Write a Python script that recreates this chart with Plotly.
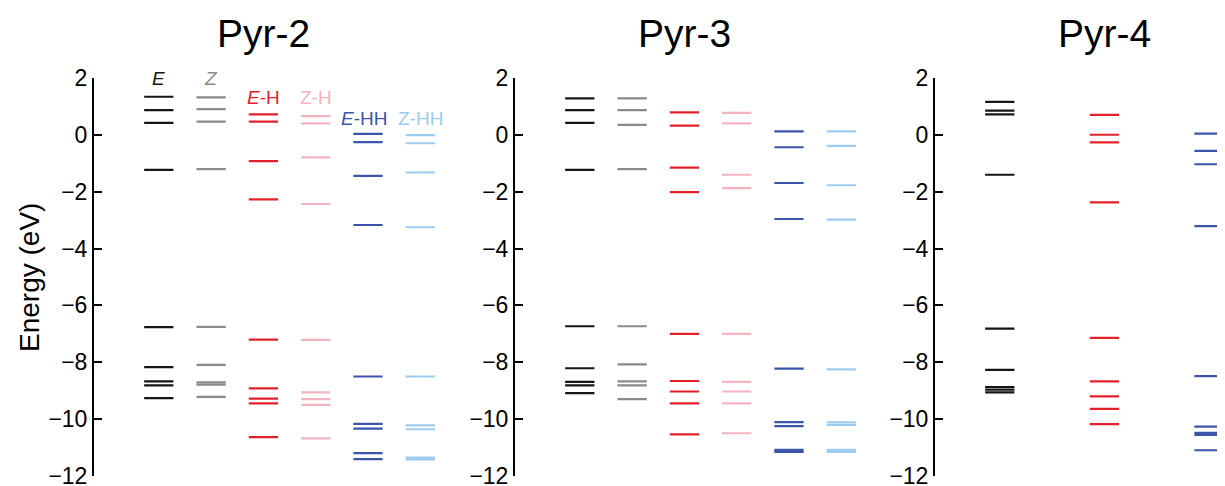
import plotly.graph_objects as go

# ---------------- data ----------------
panel_names = ["Pyr-2", "Pyr-3", "Pyr-4"]
column_labels = ["<i>E</i>", "<i>Z</i>", "<i>E</i>-H", "Z-H", "<i>E</i>-HH", "Z-HH"]
column_keys = ["E", "Z", "E-H", "Z-H", "E-HH", "Z-HH"]
column_colors = ["#151515", "#8a8a8a", "#e3202a", "#f3b4c1", "#3c55a9", "#9ecbf0"]

pyr2_E = [1.35, 0.88, 0.43, -1.23, -6.77, -8.18, -8.68, -8.82, -9.27]
pyr2_Z = [1.33, 0.91, 0.47, -1.20, -6.76, -8.10, -8.72, -8.80, -9.23]
pyr2_EH = [0.73, 0.47, -0.92, -2.27, -7.21, -8.93, -9.29, -9.46, -10.65]
pyr2_ZH = [0.67, 0.41, -0.79, -2.43, -7.22, -9.07, -9.31, -9.51, -10.69]
pyr2_EHH = [0.04, -0.25, -1.44, -3.17, -8.51, -10.18, -10.35, -11.21, -11.42]
pyr2_ZHH = [0.00, -0.29, -1.32, -3.25, -8.51, -10.23, -10.37, -11.37, -11.43]

pyr3_E = [1.29, 0.88, 0.43, -1.23, -6.74, -8.22, -8.70, -8.82, -9.10]
pyr3_Z = [1.29, 0.88, 0.36, -1.20, -6.74, -8.08, -8.68, -8.82, -9.31]
pyr3_EH = [0.80, 0.33, -1.15, -2.01, -7.01, -8.67, -9.04, -9.46, -10.55]
pyr3_ZH = [0.78, 0.41, -1.40, -1.87, -7.01, -8.70, -9.04, -9.46, -10.51]
pyr3_EHH = [0.13, -0.43, -1.69, -2.96, -8.23, -10.12, -10.26, -11.10, -11.17]
pyr3_ZHH = [0.13, -0.38, -1.77, -2.98, -8.26, -10.13, -10.22, -11.10, -11.17]

pyr4_E = [1.17, 0.86, 0.73, -1.40, -6.82, -8.28, -8.88, -8.97, -9.07]
pyr4_EH = [0.71, 0.01, -0.26, -2.37, -7.15, -8.68, -9.21, -9.65, -10.19]
pyr4_EHH = [0.05, -0.56, -1.03, -3.21, -8.50, -10.28, -10.50, -10.57, -11.11]

panels = [
    {"E": pyr2_E, "Z": pyr2_Z, "E-H": pyr2_EH, "Z-H": pyr2_ZH, "E-HH": pyr2_EHH, "Z-HH": pyr2_ZHH},
    {"E": pyr3_E, "Z": pyr3_Z, "E-H": pyr3_EH, "Z-H": pyr3_ZH, "E-HH": pyr3_EHH, "Z-HH": pyr3_ZHH},
    {"E": pyr4_E, "E-H": pyr4_EH, "E-HH": pyr4_EHH},
]

y_ticks = [2, 0, -2, -4, -6, -8, -10, -12]

# ---------------- layout geometry ----------------
# the page body has an 8px margin, so figure coords = page coords - 8
OFF = 8
W, H = 1225 - OFF, 486 - OFF
px_per_unit = 52.3
x_left = -0.239
half_len = 0.28
axis_left_px = [94 - OFF, 515 - OFF, 935 - OFF]
axis_right_px = [436 - OFF, 857 - OFF, 1225 - OFF]
y_top_px, y_bot_px = 78.3 - OFF, 475.5 - OFF

FONT = "Liberation Sans, Arial, Helvetica, sans-serif"

fig = go.Figure()

for p, data in enumerate(panels):
    xa = "x" if p == 0 else f"x{p+1}"
    ya = "y" if p == 0 else f"y{p+1}"
    for ci, key in enumerate(column_keys):
        if key not in data:
            continue
        pos = ci + 1
        xs, ys = [], []
        for v in data[key]:
            xs += [pos - half_len, pos + half_len, None]
            ys += [v, v, None]
        fig.add_trace(go.Scatter(
            x=xs, y=ys, mode="lines",
            line=dict(color=column_colors[ci], width=2.2),
            xaxis=xa, yaxis=ya, showlegend=False, hoverinfo="skip",
        ))

layout = dict(
    width=W, height=H,
    margin=dict(l=0, r=0, t=0, b=0),
    paper_bgcolor="white", plot_bgcolor="white",
    template="none",
    font=dict(family=FONT, color="black"),
    showlegend=False,
)

y_dom = [1 - y_bot_px / H, 1 - y_top_px / H]
for p in range(3):
    xk = "xaxis" if p == 0 else f"xaxis{p+1}"
    yk = "yaxis" if p == 0 else f"yaxis{p+1}"
    xa = "x" if p == 0 else f"x{p+1}"
    ya = "y" if p == 0 else f"y{p+1}"
    x_right = x_left + (axis_right_px[p] - axis_left_px[p]) / px_per_unit
    layout[xk] = dict(
        domain=[axis_left_px[p] / W, axis_right_px[p] / W],
        range=[x_left, x_right], visible=False, anchor=ya,
        automargin=False, fixedrange=True,
    )
    layout[yk] = dict(
        domain=y_dom, range=[-12, 2], anchor=xa,
        tickvals=y_ticks, ticks="inside", ticklen=8, tickwidth=2,
        tickcolor="black", showline=True, linewidth=2, linecolor="black",
        showgrid=False, zeroline=False, automargin=False,
        ticklabeloverflow="allow",
        tickfont=dict(family=FONT, size=23, color="black"),
    )

fig.update_layout(**layout)

# panel titles
for p, name in enumerate(panel_names):
    xr = "x" if p == 0 else f"x{p+1}"
    fig.add_annotation(
        x=3.0, xref=xr, y=1 - (34 - OFF) / H, yref="paper",
        text=name, showarrow=False, xanchor="center", yanchor="middle",
        font=dict(family=FONT, size=39, color="black"),
    )

# column labels (Pyr-2 only)
label_y = [2.0, 2.0, 1.31, 1.31, 0.60, 0.60]
label_x = [1, 2, 3, 4, 4.93, 6]
for ci, lab in enumerate(column_labels):
    fig.add_annotation(
        x=label_x[ci], xref="x", y=label_y[ci], yref="y",
        text=lab, showarrow=False, xanchor="center", yanchor="middle",
        font=dict(family=FONT, size=19, color=column_colors[ci]),
    )

# y-axis title
fig.add_annotation(
    x=(29 - OFF) / W, xref="paper", y=1 - (278 - OFF) / H, yref="paper",
    text="Energy (eV)", showarrow=False, textangle=-90,
    xanchor="center", yanchor="middle",
    font=dict(family=FONT, size=28, color="black"),
)

fig.write_html("out.html")
